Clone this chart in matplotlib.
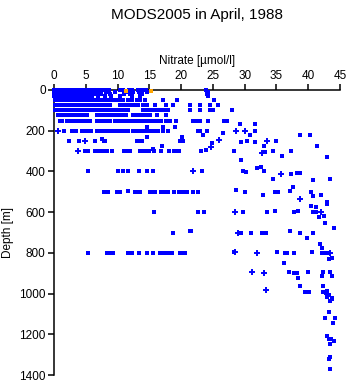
#!/usr/bin/env python3
"""Nitrate profiles from MODS2005, April 1988."""
import matplotlib
matplotlib.use("Agg")
import matplotlib.pyplot as plt

plt.rcParams["font.family"] = ["Liberation Sans", "DejaVu Sans"]

# nitrate [umol/l] at the standard sampling depths
no3_0m = [0.0, 0.2, 0.4, 0.6, 0.8, 1.0, 1.2, 1.4, 1.6, 1.8, 2.0, 2.2, 2.4, 2.6, 2.8, 3.0, 3.3, 3.6,
          3.9, 4.2, 4.5, 4.8, 5.1, 5.4, 5.7, 6.0, 6.3, 6.6, 7.0, 7.4, 8.0, 8.6, 10.4, 10.8, 11.8,
          12.3, 13.2, 13.8, 14.4, 23.9]
no3_10m = [0.0, 0.3, 0.6, 0.9, 1.2, 1.5, 1.8, 2.1, 2.4, 2.7, 3.0, 3.3, 3.6, 3.9, 4.2, 4.5, 4.8, 5.1,
           5.4, 5.7, 6.0, 6.4, 6.8, 7.2, 8.2, 9.6, 11.4, 12.5, 13.3, 14.6, 24.2]
no3_20m = [0.0, 0.3, 0.6, 0.9, 1.2, 1.5, 1.8, 2.1, 2.4, 2.7, 3.0, 3.3, 3.6, 3.9, 4.2, 4.5, 4.8, 5.1,
           5.5, 5.9, 6.3, 7.4, 8.8, 11.0, 12.0, 13.8, 24.0]
no3_30m = [0.0, 0.3, 0.6, 0.9, 1.2, 1.5, 1.8, 2.1, 2.4, 2.7, 3.0, 3.4, 3.8, 4.2, 4.6, 5.0, 5.5, 6.0,
           7.0, 8.1, 9.0, 10.4, 12.2, 13.5, 24.3]
no3_50m = [0.2, 0.5, 0.8, 1.1, 1.4, 1.7, 2.0, 2.3, 3.0, 3.3, 3.6, 4.1, 4.4, 4.7, 5.0, 5.4, 5.8, 6.2,
           6.7, 7.1, 7.6, 8.0, 8.6, 9.3, 9.8, 10.4, 10.9, 11.6, 12.2, 13.0, 13.6, 14.3, 17.1, 19.3, 25.1]
no3_75m = [0.2, 0.5, 0.8, 1.1, 1.4, 1.7, 2.0, 2.3, 2.6, 2.9, 3.2, 3.5, 3.8, 4.2, 4.6, 5.0, 5.4, 5.8,
           6.2, 6.6, 7.2, 7.6, 8.0, 8.4, 8.8, 10.4, 10.9, 11.5, 12.0, 12.6, 13.2, 14.0, 14.6, 15.9,
           17.7, 18.8, 21.4, 23.0, 24.5, 25.8]
no3_100m = [0.2, 0.5, 0.8, 1.1, 1.4, 1.7, 2.0, 2.3, 2.6, 2.9, 3.2, 3.5, 3.8, 4.1, 4.4, 4.8, 5.2, 5.6,
            6.0, 6.5, 7.0, 7.5, 7.9, 8.3, 8.8, 9.2, 9.6, 10.1, 10.6, 11.1, 11.6, 14.0, 14.5, 15.0,
            15.6, 16.2, 16.8, 17.4, 18.0, 21.4, 23.0, 24.5, 25.0, 28.0]
no3_125m = [0.6, 0.9, 1.2, 1.6, 2.0, 2.4, 2.8, 3.2, 3.6, 4.0, 4.4, 4.8, 5.2, 6.7, 7.1, 7.5, 7.9, 8.3,
            8.8, 9.2, 9.6, 10.0, 10.5, 11.0, 11.4, 12.5, 13.0, 13.5, 14.0, 14.6, 15.1, 16.2, 17.7]
no3_150m = [1.0, 1.3, 2.0, 2.4, 2.8, 3.2, 3.8, 4.1, 4.4, 4.8, 5.2, 5.7, 6.7, 7.1, 7.5, 7.9, 8.3, 8.8,
            9.6, 10.0, 10.4, 10.8, 11.2, 11.6, 12.0, 12.4, 12.9, 13.4, 13.9, 14.4, 15.1, 15.6, 16.2,
            16.8, 17.7, 18.3, 19.2, 21.9, 22.5, 23.0, 24.3, 26.7, 27.2]
no3_200m = [1.6, 2.8, 3.2, 3.5, 4.4, 4.8, 5.2, 5.6, 5.9, 6.7, 7.2, 7.8, 8.5, 8.9, 9.3, 9.7, 10.1,
            10.5, 10.9, 11.3, 11.7, 12.5, 12.9, 13.3, 13.8, 14.2, 14.6, 15.1, 15.5, 15.9, 16.4, 17.2,
            18.0, 22.7, 24.1, 31.7]
no3_250m = [2.3, 4.0, 6.5, 7.8, 8.0, 13.0, 13.4, 13.8, 19.8, 20.3, 30.4, 35.0]
no3_300m = [4.8, 5.1, 5.4, 6.5, 7.0, 7.4, 7.8, 8.4, 9.2, 11.0, 11.5, 12.0, 13.6, 14.0, 14.5, 15.0,
            15.8, 16.8, 18.1, 18.9, 19.3, 19.7, 23.2, 28.4, 34.4, 37.3]
no3_400m = [5.4, 10.0, 10.9, 11.7, 13.4, 14.6, 15.5, 23.3, 29.8]
no3_500m = [7.8, 8.2, 8.5, 9.9, 10.4, 12.7, 13.1, 13.5, 15.1, 15.5, 15.9, 16.9, 17.5, 18.0, 18.9,
            19.7, 20.3, 21.0, 21.8, 22.7, 30.1, 34.7, 35.3, 40.4]
no3_600m = [15.7, 22.7, 23.6, 29.8, 33.5, 37.7, 40.8, 41.2]
no3_700m = [18.8, 29.5, 31.0, 32.8, 33.4, 38.7, 40.8]
no3_800m = [5.4, 8.3, 8.8, 9.3, 11.7, 12.2, 13.4, 14.6, 15.5, 16.7, 17.0, 17.3, 17.6, 17.9, 18.2,
            18.5, 19.8, 20.2, 20.6, 36.3, 36.6, 37.7, 42.6, 42.9]

std_depths = [0, 10, 20, 30, 50, 75, 100, 125, 150, 200, 250, 300, 400, 500, 600, 700, 800]
std_no3 = [no3_0m, no3_10m, no3_20m, no3_30m, no3_50m, no3_75m, no3_100m, no3_125m, no3_150m,
           no3_200m, no3_250m, no3_300m, no3_400m, no3_500m, no3_600m, no3_700m, no3_800m]

# samples off the standard levels (nitrate, depth)
other_samples = [
    (29.3, 165), (31.6, 165), (14.6, 180), (17.1, 180), (19.1, 180), (22.9, 201), (26.6, 210),
    (23.5, 221), (30.8, 221), (38.7, 219), (40.3, 221), (14.7, 232), (20.1, 232), (7.5, 242),
    (24.9, 262), (29.5, 257), (31.7, 257), (17.0, 273), (33.1, 273), (41.4, 273), (15.5, 290),
    (23.9, 296), (33.2, 306), (35.9, 326), (43.0, 327), (29.5, 344), (31.9, 381), (32.5, 376),
    (30.2, 404), (33.0, 398), (37.3, 411), (38.3, 406), (38.7, 406), (34.4, 435), (40.8, 444),
    (43.4, 439), (11.7, 498), (28.7, 491), (32.9, 517), (37.2, 498), (37.6, 476), (40.7, 521),
    (42.0, 517), (43.0, 549), (43.0, 557), (43.0, 562), (41.3, 573), (40.5, 568), (34.7, 593),
    (38.4, 596), (41.7, 622), (42.5, 619), (42.7, 655), (44.0, 679), (21.4, 691), (21.6, 694),
    (37.1, 694), (39.8, 725), (41.9, 758), (42.2, 778), (28.4, 796), (35.1, 797), (40.6, 797),
    (42.1, 799), (43.8, 825), (43.3, 832), (36.2, 851), (37.0, 895), (37.8, 897), (38.3, 897),
    (38.4, 922), (40.0, 895), (42.3, 895), (43.4, 894), (43.8, 913), (42.2, 912), (38.7, 963),
    (39.5, 990), (40.1, 990), (42.3, 963), (42.4, 990), (42.8, 995), (43.0, 985), (43.3, 1007),
    (42.9, 1015), (43.8, 1023), (43.4, 1036), (43.8, 1028), (43.3, 1092), (42.7, 1122),
    (44.2, 1122), (43.9, 1147), (43.0, 1206), (43.3, 1223), (43.6, 1223), (44.1, 1233),
    (43.5, 1248), (43.5, 1311), (43.3, 1323), (43.5, 1372),
]

# casts plotted with the cross symbol (nitrate, depth)
cross_samples = [
    (0.7, 203), (4.9, 252), (3.7, 301), (28.6, 203), (30.1, 203), (26.0, 247), (33.5, 252),
    (24.7, 281), (32.7, 311), (21.8, 400), (35.7, 413), (38.7, 537), (28.5, 601), (42.0, 601),
    (29.0, 701), (28.5, 794), (31.9, 802), (43.5, 802), (31.1, 895), (33.0, 900), (33.4, 984),
]

# flagged surface values
flag_no3 = [11.3, 15.2]
flag_depth = [3, 3]

BLUE = "#0000ff"

fig = plt.figure(figsize=(3.48, 3.84), dpi=100)
ax = fig.add_axes([54 / 348, 1 - 375 / 384, 286 / 348, 285 / 384])

sq_x, sq_y = [], []
for depth, values in zip(std_depths, std_no3):
    sq_x.extend(values)
    sq_y.extend([depth] * len(values))
sq_x.extend(n for n, d in other_samples)
sq_y.extend(d for n, d in other_samples)

ax.plot(sq_x, sq_y, linestyle="none", marker="s", markersize=2.3, color=BLUE,
        markeredgewidth=0, antialiased=False, clip_on=False, zorder=3)
ax.plot([n for n, d in cross_samples], [d for n, d in cross_samples], linestyle="none",
        marker="+", markersize=4, markeredgewidth=1.4, color=BLUE, antialiased=False,
        clip_on=False, zorder=3)
ax.plot(flag_no3, flag_depth, linestyle="none", marker="s", markersize=2.6, color="#ffa500",
        markeredgewidth=0, antialiased=False, clip_on=False, zorder=4)

ax.set_xlim(0, 45)
ax.set_ylim(1400, 0)
ax.set_xticks(range(0, 46, 5))
ax.set_yticks(range(0, 1401, 200))
ax.xaxis.tick_top()
ax.xaxis.set_label_position("top")
ax.spines["bottom"].set_visible(False)
ax.spines["right"].set_visible(False)
ax.spines["top"].set_linewidth(1.1)
ax.spines["left"].set_linewidth(1.1)
ax.tick_params(direction="out", length=4, width=1.1, labelsize=8.5, pad=2)

ax.set_xlabel("Nitrate [µmol/l]", fontsize=8.5, labelpad=4)
ax.set_ylabel("Depth [m]", fontsize=8.5, labelpad=4)
fig.text(197 / 348, 1 - 15 / 384, "MODS2005 in April, 1988", ha="center", va="center",
         fontsize=11)

fig.savefig("out.png", dpi=100)
